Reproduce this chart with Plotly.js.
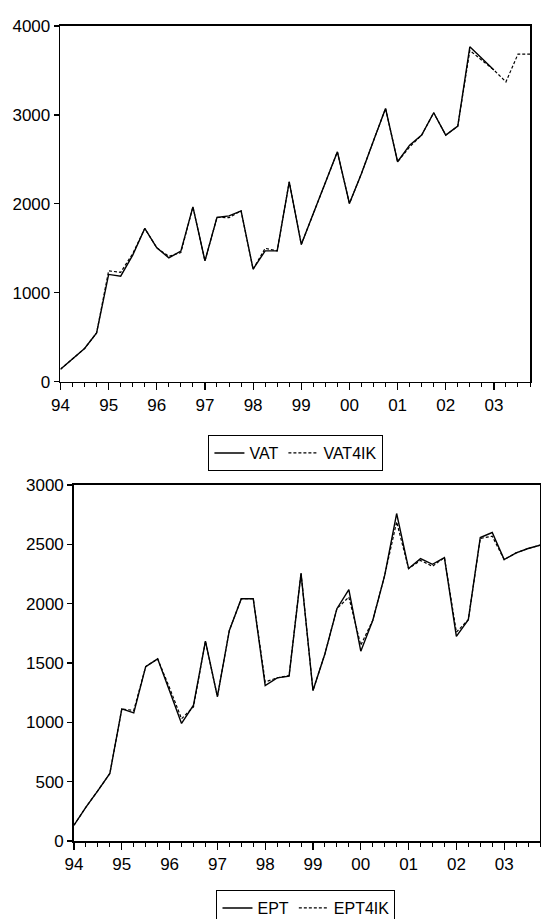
<!DOCTYPE html>
<html>
<head>
<meta charset="utf-8">
<script src="https://cdn.plot.ly/plotly-3.0.1.min.js"></script>
<style>
html,body{margin:0;padding:0;background:#fff;}
#chart{width:541px;height:919px;}
</style>
</head>
<body>
<div id="chart"></div>
<script>
// Quarterly periods 1994Q1 .. 2003Q4
var quarters = ["1994Q1","1994Q2","1994Q3","1994Q4","1995Q1","1995Q2","1995Q3","1995Q4",
"1996Q1","1996Q2","1996Q3","1996Q4","1997Q1","1997Q2","1997Q3","1997Q4",
"1998Q1","1998Q2","1998Q3","1998Q4","1999Q1","1999Q2","1999Q3","1999Q4",
"2000Q1","2000Q2","2000Q3","2000Q4","2001Q1","2001Q2","2001Q3","2001Q4",
"2002Q1","2002Q2","2002Q3","2002Q4","2003Q1","2003Q2","2003Q3","2003Q4"];

var vat = [140,255,373,549,1206,1187,1423,1723,1505,1393,1468,1966,1359,1847,1865,1921,
1265,1471,1471,2248,1543,1890,2235,2585,2004,2340,2710,3073,2473,2660,2773,3024,
2773,2874,3766,3630,3505,null,null,null];
var vat4ik = [140,255,373,549,1246,1230,1440,1723,1505,1410,1452,1966,1359,1847,1845,1921,
1265,1500,1471,2248,1543,1890,2235,2585,2004,2340,2710,3073,2473,2640,2773,3024,
2773,2874,3725,3610,3505,3372,3684,3684];

var ept = [133,285,425,569,1113,1079,1470,1535,1265,991,1145,1684,1217,1775,2042,2042,
1310,1375,1389,2256,1268,1578,1958,2118,1600,1859,2239,2760,2296,2380,2332,2389,
1724,1865,2558,2600,2372,2428,2465,2493];
var ept4ik = [133,285,425,569,1113,1100,1470,1535,1290,1030,1130,1684,1217,1775,2042,2042,
1340,1375,1395,2256,1268,1578,1958,2056,1650,1859,2239,2690,2296,2365,2315,2389,
1760,1865,2550,2569,2372,2428,2465,2493];

var yearTickVals = [1994,1995,1996,1997,1998,1999,2000,2001,2002,2003];
var yearTickText = ["94","95","96","97","98","99","00","01","02","03"];

function qToNum(q){ return parseInt(q.slice(0,4)) + (parseInt(q.slice(5)) - 1) * 0.25; }
var xs = quarters.map(qToNum);

var F = {family: "Liberation Sans, Arial, sans-serif", size: 17, color: "#000"};
var LF = {family: "Liberation Sans, Arial, sans-serif", size: 16, color: "#000"};

var traces = [
  {x: xs, y: vat, name: "VAT", type: "scatter", mode: "lines", xaxis: "x", yaxis: "y",
   line: {color: "#000", width: 1.4}, legend: "legend", connectgaps: false},
  {x: xs, y: vat4ik, name: "VAT4IK", type: "scatter", mode: "lines", xaxis: "x", yaxis: "y",
   line: {color: "#000", width: 1.2, dash: "3px,2px"}, legend: "legend"},
  {x: xs, y: ept, name: "EPT", type: "scatter", mode: "lines", xaxis: "x2", yaxis: "y2",
   line: {color: "#000", width: 1.4}, legend: "legend2"},
  {x: xs, y: ept4ik, name: "EPT4IK", type: "scatter", mode: "lines", xaxis: "x2", yaxis: "y2",
   line: {color: "#000", width: 1.2, dash: "3px,2px"}, legend: "legend2"}
];

function xaxisDef(domain, anchor){
  return {
    domain: domain, anchor: anchor, range: [1994, 2003.75],
    tickmode: "array", tickvals: yearTickVals, ticktext: yearTickText,
    ticks: "outside", ticklen: 7, tickwidth: 1.2, tickcolor: "#000",
    minor: {dtick: 0.25, tick0: 1994, ticks: "outside", ticklen: 4, tickwidth: 1, tickcolor: "#000", showgrid: false},
    showline: true, linecolor: "#000", linewidth: 1.8, mirror: true,
    showgrid: false, zeroline: false, tickfont: F, automargin: false
  };
}
function yaxisDef(domain, anchor, range, dtick){
  return {
    domain: domain, anchor: anchor, range: range, dtick: dtick, tick0: 0,
    ticks: "outside", ticklen: 5, tickwidth: 1.2, tickcolor: "#000",
    showline: true, linecolor: "#000", linewidth: 1.8, mirror: true,
    showgrid: false, zeroline: false, tickfont: F, automargin: false
  };
}

var layout = {
  width: 541, height: 919,
  margin: {l: 0, r: 0, t: 0, b: 0, autoexpand: false},
  paper_bgcolor: "#fff", plot_bgcolor: "#fff",
  font: F,
  showlegend: true,
  xaxis: xaxisDef([0.1118, 0.9797], "y"),
  yaxis: yaxisDef([0.5847, 0.9717], "x", [0, 4000], 1000),
  xaxis2: xaxisDef([0.1368, 0.9982], "y2"),
  yaxis2: yaxisDef([0.0849, 0.4722], "x2", [0, 3000], 500),
  legend: {orientation: "h", x: 0.547, xanchor: "center", y: 0.5266, yanchor: "top",
    bordercolor: "#000", borderwidth: 1, bgcolor: "#fff", font: LF,
    itemwidth: 30, tracegroupgap: 0},
  legend2: {orientation: "h", x: 0.5656, xanchor: "center", y: 0.0315, yanchor: "top",
    bordercolor: "#000", borderwidth: 1, bgcolor: "#fff", font: LF,
    itemwidth: 30, tracegroupgap: 0}
};

Plotly.newPlot("chart", traces, layout, {staticPlot: true, displayModeBar: false});
</script>
</body>
</html>
